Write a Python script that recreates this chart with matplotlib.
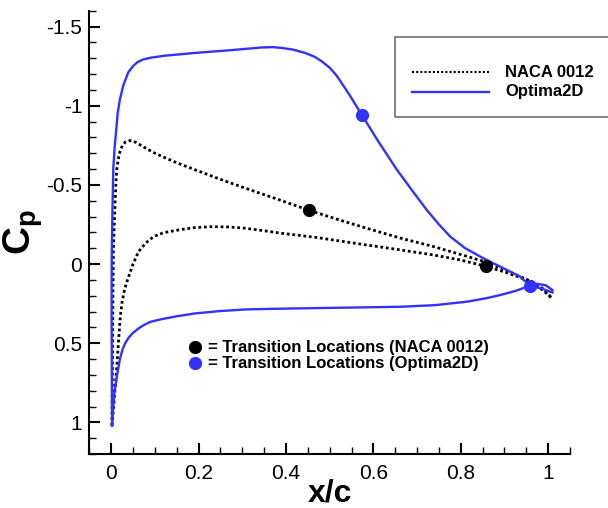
import numpy as np
import matplotlib
matplotlib.use('Agg')
import matplotlib.pyplot as plt
from matplotlib.patches import Rectangle
from matplotlib.ticker import MultipleLocator

plt.rcParams['font.family'] = ['Liberation Sans', 'DejaVu Sans']
plt.rcParams['mathtext.fontset'] = 'custom'
plt.rcParams['mathtext.rm'] = 'Liberation Sans'
plt.rcParams['mathtext.bf'] = 'Liberation Sans:bold'

# NACA 0012 pressure distribution (upper / lower surface)
naca_up_x = [0.002, 0.003, 0.004, 0.005, 0.007, 0.009, 0.011, 0.013, 0.016, 0.02,
             0.026, 0.033, 0.043, 0.052, 0.065, 0.08, 0.1, 0.116, 0.15, 0.192,
             0.25, 0.307, 0.38, 0.45, 0.52, 0.585, 0.66, 0.738, 0.8, 0.855,
             0.9, 0.936, 0.97, 0.99, 1.01]
naca_up_cp = [1.02, 0.6, 0.2, -0.07, -0.25, -0.384, -0.52, -0.60, -0.66, -0.71,
              -0.75, -0.772, -0.78, -0.775, -0.755, -0.73, -0.70, -0.68, -0.64, -0.595,
              -0.535, -0.479, -0.41, -0.342, -0.28, -0.226, -0.165, -0.11, -0.06, -0.015,
              0.035, 0.08, 0.12, 0.16, 0.22]
naca_lo_x = [0.002, 0.004, 0.007, 0.01, 0.013, 0.017, 0.021, 0.025, 0.03, 0.035,
             0.04, 0.05, 0.0625, 0.08, 0.097, 0.12, 0.154, 0.19, 0.23, 0.27,
             0.307, 0.35, 0.39, 0.467, 0.585, 0.66, 0.738, 0.8, 0.855, 0.9,
             0.936, 0.97, 0.99, 1.01]
naca_lo_cp = [1.02, 0.95, 0.85, 0.75, 0.65, 0.48, 0.33, 0.24, 0.17, 0.12,
              0.08, 0.0, -0.078, -0.135, -0.173, -0.198, -0.215, -0.23, -0.236, -0.234,
              -0.226, -0.21, -0.194, -0.169, -0.12, -0.09, -0.057, -0.025, 0.013, 0.05,
              0.085, 0.13, 0.17, 0.22]

# Optima2D pressure distribution
opt_up_x = [0.002, 0.0015, 0.001, 0.0012, 0.0015, 0.003, 0.005, 0.008, 0.011, 0.015,
            0.02, 0.028, 0.039, 0.05, 0.06, 0.073, 0.09, 0.12, 0.19, 0.27,
            0.32, 0.345, 0.37, 0.39, 0.415, 0.444, 0.465, 0.482, 0.5, 0.516,
            0.545, 0.574, 0.61, 0.654, 0.69, 0.722, 0.75, 0.776, 0.81, 0.852,
            0.9, 0.936, 0.958, 0.985, 1.01]
opt_up_cp = [1.02, 0.7, 0.3, 0.0, -0.09, -0.35, -0.61, -0.74, -0.83, -0.955,
             -1.04, -1.13, -1.21, -1.25, -1.275, -1.292, -1.303, -1.315, -1.333, -1.35,
             -1.362, -1.368, -1.37, -1.365, -1.355, -1.333, -1.31, -1.28, -1.24, -1.19,
             -1.07, -0.94, -0.78, -0.595, -0.46, -0.342, -0.25, -0.173, -0.1, -0.036,
             0.03, 0.08, 0.137, 0.155, 0.18]
opt_lo_x = [0.002, 0.004, 0.007, 0.013, 0.02, 0.026, 0.032, 0.04, 0.05, 0.0625,
            0.075, 0.09, 0.116, 0.15, 0.192, 0.25, 0.307, 0.37, 0.432, 0.55,
            0.661, 0.74, 0.814, 0.86, 0.89, 0.925, 0.955, 0.975, 0.995, 1.01]
opt_lo_cp = [1.02, 0.93, 0.82, 0.71, 0.6, 0.54, 0.50, 0.465, 0.435, 0.407,
             0.385, 0.365, 0.348, 0.33, 0.312, 0.297, 0.287, 0.283, 0.28, 0.275,
             0.27, 0.26, 0.238, 0.215, 0.196, 0.17, 0.14, 0.125, 0.135, 0.165]

# transition locations
naca_tr_x = [0.453, 0.858]
naca_tr_cp = [-0.342, 0.013]
opt_tr_x = [0.574, 0.958]
opt_tr_cp = [-0.94, 0.137]

blue = '#3232ff'
dots = (0, (1.0, 1.0))

fig = plt.figure(figsize=(6.08, 5.08), dpi=100)
ax = fig.add_axes([0.1469, 0.1063, 0.7906, 0.8726])

ax.plot(naca_up_x, naca_up_cp, color='black', lw=2.0, linestyle=dots, dash_capstyle='butt')
ax.plot(naca_lo_x, naca_lo_cp, color='black', lw=2.0, linestyle=dots, dash_capstyle='butt')
ax.plot(opt_up_x, opt_up_cp, color=blue, lw=1.7)
ax.plot(opt_lo_x, opt_lo_cp, color=blue, lw=1.7)
ax.plot(naca_tr_x, naca_tr_cp, 'o', color='black', ms=8.5, zorder=5)
ax.plot(opt_tr_x, opt_tr_cp, 'o', color=blue, ms=8.5, zorder=5)

ax.set_xlim(-0.05, 1.05)
ax.set_ylim(1.2, -1.6)
ax.xaxis.set_minor_locator(MultipleLocator(0.05))
ax.yaxis.set_minor_locator(MultipleLocator(0.1))
ax.set_yticks([-1.5, -1, -0.5, 0, 0.5, 1])
ax.set_yticklabels(['-1.5', '-1', '-0.5', '0', '0.5', '1'])
ax.set_xticks([0, 0.2, 0.4, 0.6, 0.8, 1])
ax.set_xticklabels(['0', '0.2', '0.4', '0.6', '0.8', '1'])

for s in ['top', 'right']:
    ax.spines[s].set_visible(False)
for s in ['left', 'bottom']:
    ax.spines[s].set_linewidth(1.5)
ax.tick_params(which='major', direction='in', length=7.7, width=1.5, labelsize=15, pad=7)
ax.tick_params(which='minor', direction='in', length=4.8, width=1.0)
ax.tick_params(axis='y', which='major', pad=5)

ax.set_xlabel('x/c', fontsize=23, fontweight='bold', labelpad=-3)
ax.set_ylabel(r'$\mathbf{C_p}$', fontsize=28, labelpad=1)

# legend box running off the right edge
ax.add_patch(Rectangle((0.635, 0.7595), 0.6, 0.1815, transform=ax.transAxes,
                       fill=False, edgecolor='#707070', lw=1.2, clip_on=False))
ax.plot([0.671, 0.831], [0.8607, 0.8607], transform=ax.transAxes, color='black',
        lw=1.5, linestyle=dots, dash_capstyle='butt', clip_on=False)
ax.plot([0.671, 0.831], [0.8172, 0.8172], transform=ax.transAxes, color=blue,
        lw=1.7, clip_on=False)
ax.text(0.865, 0.8607, 'NACA 0012', transform=ax.transAxes, fontsize=12,
        fontweight='bold', va='center', ha='left')
ax.text(0.865, 0.8172, 'Optima2D', transform=ax.transAxes, fontsize=12,
        fontweight='bold', va='center', ha='left')

# transition marker key
ax.plot([0.2199], [0.2406], 'o', color='black', ms=8.5, transform=ax.transAxes)
ax.plot([0.2199], [0.2045], 'o', color=blue, ms=8.5, transform=ax.transAxes)
ax.text(0.2470, 0.2406, '= Transition Locations (NACA 0012)', transform=ax.transAxes,
        fontsize=12, fontweight='bold', va='center', ha='left')
ax.text(0.2470, 0.2045, '= Transition Locations (Optima2D)', transform=ax.transAxes,
        fontsize=12, fontweight='bold', va='center', ha='left')

fig.savefig('out.png', dpi=100)
